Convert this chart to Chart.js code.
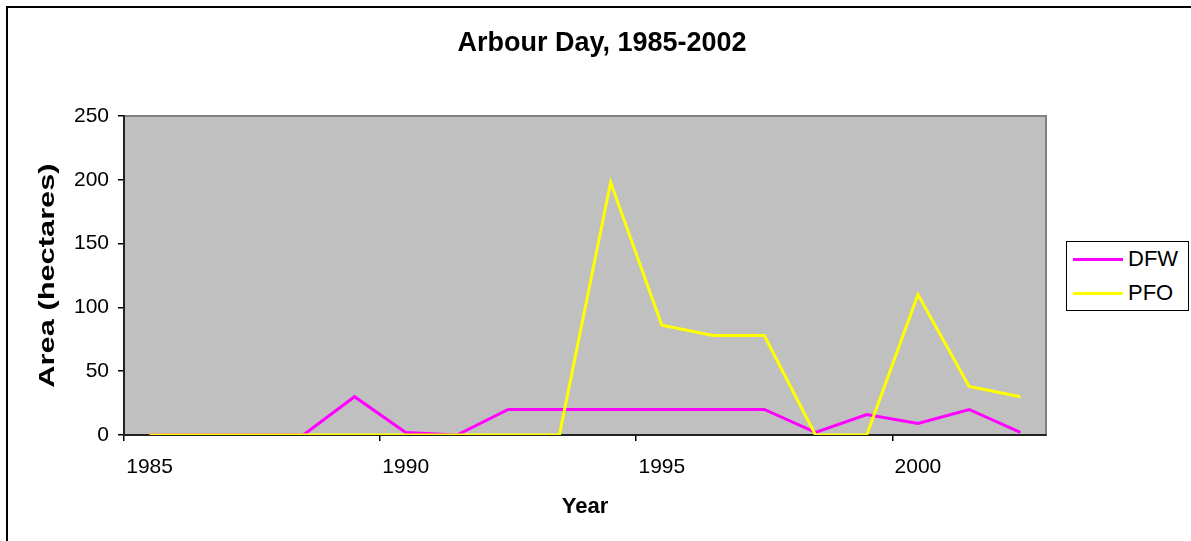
<!DOCTYPE html>
<html>
<head>
<meta charset="utf-8">
<script src="https://cdn.jsdelivr.net/npm/chart.js@4/dist/chart.umd.min.js"></script>
<style>
html,body{margin:0;padding:0;background:#fff;}
#wrap{position:relative;width:1191px;height:541px;overflow:hidden;font-family:"Liberation Sans",Arial,sans-serif;}
#frame{position:absolute;left:6px;top:6px;width:1300px;height:700px;border-left:2px solid #000;border-top:2px solid #000;}
#chart{position:absolute;left:0;top:0;}
#legend{position:absolute;left:1066px;top:241px;width:121px;height:68px;border:1px solid #000;background:#fff;}
.item{position:absolute;left:0;height:24px;display:flex;align-items:center;font-size:22px;color:#000;}
.swatch{display:inline-block;width:50px;height:3px;margin-left:6px;margin-right:5px;}
</style>
</head>
<body>
<div id="wrap">
  <div id="frame"></div>
  <canvas id="chart" width="1191" height="541"></canvas>
  <div id="legend"></div>
</div>
<script>
// ---- data ----
const years = ['1985','1986','1987','1988','1989','1990','1991','1992','1993','1994','1995','1996','1997','1998','1999','2000','2001','2002'];
const xTickLabels = ['1985','1990','1995','2000'];
const dfw = [0,0,0,0,30,2,0,20,20,20,20,20,20,2,16,9,20,2];
const pfo = [0,0,0,0,0,0,0,0,0,198,86,78,78,0,0,110,38,30];
const seriesNames = ['DFW','PFO'];
const seriesColors = ['#FF00FF','#FFFF00'];
const yMin = 0, yMax = 250, yStep = 50;
const chartTitle = 'Arbour Day, 1985-2002';
const xTitle = 'Year';
const yTitle = 'Area (hectares)';

const FONT = '"Liberation Sans", Arial, sans-serif';

const plotBg = {
  id: 'plotBg',
  beforeDraw(chart) {
    const {ctx, chartArea: a} = chart;
    ctx.save();
    ctx.fillStyle = '#C0C0C0';
    ctx.fillRect(a.left, a.top, a.width, a.height);
    ctx.strokeStyle = '#808080';
    ctx.lineWidth = 2;
    ctx.strokeRect(a.left, a.top, a.width, a.height);
    ctx.restore();
  }
};

// y-axis title: drawn rotated and stretched along its length, as in the reference
const yTitlePlugin = {
  id: 'yTitle',
  afterDraw(chart) {
    const {ctx, chartArea: a} = chart;
    const ys = chart.scales.y;
    ctx.save();
    ctx.translate(ys.left + 35, (a.top + a.bottom) / 2);
    ctx.rotate(-Math.PI / 2);
    ctx.scale(1.4, 1);
    ctx.font = 'bold 22px ' + FONT;
    ctx.fillStyle = '#000';
    ctx.textAlign = 'center';
    ctx.textBaseline = 'middle';
    ctx.fillText(yTitle, 0, 0);
    ctx.restore();
  }
};

const chart = new Chart(document.getElementById('chart'), {
  type: 'line',
  data: {
    labels: years,
    datasets: [
      {label: seriesNames[0], data: dfw, borderColor: seriesColors[0], backgroundColor: seriesColors[0], borderWidth: 3, pointRadius: 0, tension: 0, order: 1},
      {label: seriesNames[1], data: pfo, borderColor: seriesColors[1], backgroundColor: seriesColors[1], borderWidth: 3, pointRadius: 0, tension: 0, order: 0}
    ]
  },
  options: {
    responsive: false,
    animation: false,
    layout: {padding: {left: 13, right: 0, top: 0, bottom: 0}},
    plugins: {
      legend: {display: false},
      tooltip: {enabled: false},
      title: {
        display: true,
        text: chartTitle,
        color: '#000',
        font: {family: FONT, size: 27, weight: 'bold'},
        padding: {top: 27, bottom: 56.6}
      }
    },
    scales: {
      x: {
        type: 'category',
        offset: true,
        grid: {
          offset: true,
          drawOnChartArea: false,
          drawTicks: true,
          tickLength: 6,
          lineWidth: 1.5,
          color: (c) => (c.type === 'tick' && c.index % 5 === 0) ? '#000' : 'rgba(0,0,0,0)'
        },
        border: {display: true, color: '#222', width: 2},
        ticks: {
          autoSkip: false,
          maxRotation: 0,
          padding: 14,
          color: '#000',
          font: {family: FONT, size: 21},
          callback: function(v, i) { const l = years[i]; return xTickLabels.includes(l) ? l : ''; }
        },
        title: {
          display: true,
          text: xTitle,
          color: '#000',
          font: {family: FONT, size: 22, weight: 'bold'},
          padding: {top: 0, bottom: 21}
        },
        afterFit(s) { s.height = 106; }
      },
      y: {
        type: 'linear',
        min: yMin, max: yMax,
        grid: {drawOnChartArea: false, drawTicks: true, tickLength: 6, color: '#000', lineWidth: 1.5},
        border: {display: true, color: '#222', width: 2},
        ticks: {stepSize: yStep, padding: 9, color: '#000', font: {family: FONT, size: 21}},
        title: {display: false, text: yTitle},
        afterFit(s) { s.width = 111; }
      },
      spacer: {
        type: 'linear',
        position: 'right',
        display: true,
        grid: {display: false},
        border: {display: false},
        ticks: {display: false},
        afterFit(s) { s.width = 145; }
      }
    }
  },
  plugins: [plotBg, yTitlePlugin]
});

// HTML legend built from the chart's datasets
const leg = document.getElementById('legend');
chart.data.datasets.forEach((ds, i) => {
  const row = document.createElement('div');
  row.className = 'item';
  row.style.top = (5 + i * 34) + 'px';
  const sw = document.createElement('span');
  sw.className = 'swatch';
  sw.style.background = ds.borderColor;
  const tx = document.createElement('span');
  tx.textContent = ds.label;
  row.appendChild(sw); row.appendChild(tx);
  leg.appendChild(row);
});
</script>
</body>
</html>
